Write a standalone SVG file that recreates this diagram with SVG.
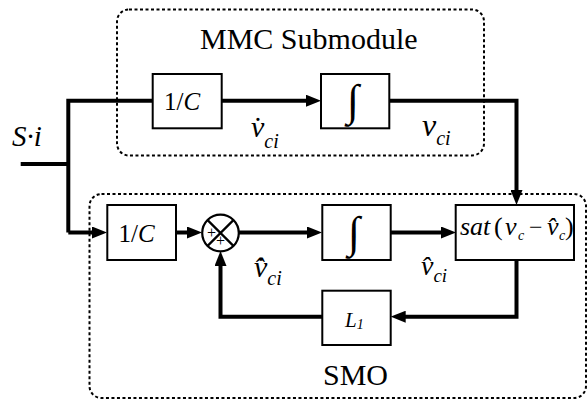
<svg xmlns="http://www.w3.org/2000/svg" width="588" height="401" viewBox="0 0 588 401">
<defs>
<marker id="ah" markerUnits="userSpaceOnUse" markerWidth="15" markerHeight="12" refX="7" refY="6" orient="auto">
<path d="M0,0 L15,6 L0,12 z" fill="#000"/>
</marker>
</defs>
<style>
.blk{fill:#fff;stroke:#000;stroke-width:2}
.dash{fill:none;stroke:#000;stroke-width:2;stroke-dasharray:3 2.5}
.wire{fill:none;stroke:#000;stroke-width:4}
</style>
<rect width="588" height="401" fill="#fff"/>
<g id="mmc-frame">
<rect class="dash" x="117" y="9.5" width="367" height="146" rx="12"/>
<text x="200" y="49" font-size="30" font-family="Liberation Serif">MMC Submodule</text>
</g>
<g id="smo-frame">
<rect class="dash" x="89.5" y="194" width="496.5" height="204" rx="12"/>
<text x="323" y="385" font-size="30" font-family="Liberation Serif">SMO</text>
</g>
<g id="connectors">
<path class="wire" d="M20.7,164 H68.3"/>
<path class="wire" d="M68.3,232.5 V100.7 H153"/>
<path class="wire" marker-end="url(#ah)" d="M221.7,100.7 H313"/>
<path class="wire" marker-end="url(#ah)" d="M389.3,100.7 H516.5 V197"/>
<path class="wire" marker-end="url(#ah)" d="M68.3,232.5 H99"/>
<path class="wire" marker-end="url(#ah)" d="M176,232.5 H194"/>
<path class="wire" marker-end="url(#ah)" d="M238.5,232.5 H314"/>
<path class="wire" marker-end="url(#ah)" d="M390.7,232.5 H448"/>
<path class="wire" marker-end="url(#ah)" d="M516.5,260 V316.7 H398.7"/>
<path class="wire" marker-end="url(#ah)" d="M322.3,316.7 H220.5 V259"/>
</g>
<g id="input-label">
<text font-style="italic" x="12" y="146" font-size="29" font-family="Liberation Serif">S&#183;i</text>
</g>
<g id="mmc-gain">
<rect class="blk" x="152.7" y="74" width="69" height="54.3"/>
<text x="164" y="110" font-size="25" font-family="Liberation Serif">1/<tspan font-style="italic">C</tspan></text>
</g>
<g id="mmc-integrator">
<rect class="blk" x="321" y="74" width="68.3" height="54.3"/>
<text x="353" y="115" font-size="44" text-anchor="middle" font-family="Liberation Serif">&#8747;</text>
</g>
<g id="vdot-label">
<text font-style="italic" x="251" y="137" font-size="30" font-family="Liberation Serif">v&#775;<tspan font-size="20" dy="11">ci</tspan></text>
</g>
<g id="v-label">
<text font-style="italic" x="422" y="136" font-size="32" font-family="Liberation Serif">v<tspan font-size="20" dy="9">ci</tspan></text>
</g>
<g id="smo-gain">
<rect class="blk" x="107.3" y="205" width="68.7" height="55"/>
<text x="118.5" y="241.5" font-size="25" font-family="Liberation Serif">1/<tspan font-style="italic">C</tspan></text>
</g>
<g id="sum">
<circle cx="220.5" cy="233" r="18.3" fill="#fff" stroke="#000" stroke-width="2.2"/>
<path d="M207.6,220.1 L233.4,245.9 M233.4,220.1 L207.6,245.9" stroke="#000" stroke-width="2.2"/>
<text x="211.5" y="237.5" font-size="16" text-anchor="middle" font-family="Liberation Serif">+</text>
<text x="220.5" y="246" font-size="16" text-anchor="middle" font-family="Liberation Serif">+</text>
</g>
<g id="smo-integrator">
<rect class="blk" x="322.3" y="205" width="68.4" height="55"/>
<text x="354" y="246.5" font-size="44" text-anchor="middle" font-family="Liberation Serif">&#8747;</text>
</g>
<g id="sat">
<rect class="blk" x="455.7" y="205" width="118.3" height="55"/>
<text x="460" y="235" font-size="26" font-family="Liberation Serif"><tspan font-style="italic">sat</tspan><tspan x="494">(</tspan><tspan font-style="italic" x="505">v</tspan><tspan font-style="italic" x="518" dy="5" font-size="14">c</tspan><tspan x="529" dy="-5" font-size="24">&#8722;</tspan><tspan font-style="italic" x="547">v&#770;</tspan><tspan font-style="italic" x="559" dy="5" font-size="14">c</tspan><tspan x="565" dy="-5">)</tspan></text>
</g>
<g id="l1">
<rect class="blk" x="322.3" y="290.7" width="68.4" height="54.3"/>
<text font-style="italic" x="345" y="327" font-size="21" font-family="Liberation Serif">L<tspan font-size="14" dy="2">1</tspan></text>
</g>
<g id="vhatdot-label">
<text font-style="italic" x="254" y="277" font-size="30" font-family="Liberation Serif">v&#770;&#775;<tspan font-size="20" dy="8">ci</tspan></text>
</g>
<g id="vhat-label">
<text font-style="italic" x="421" y="275" font-size="28" font-family="Liberation Serif">v&#770;<tspan font-size="19" dy="7">ci</tspan></text>
</g>
</svg>
